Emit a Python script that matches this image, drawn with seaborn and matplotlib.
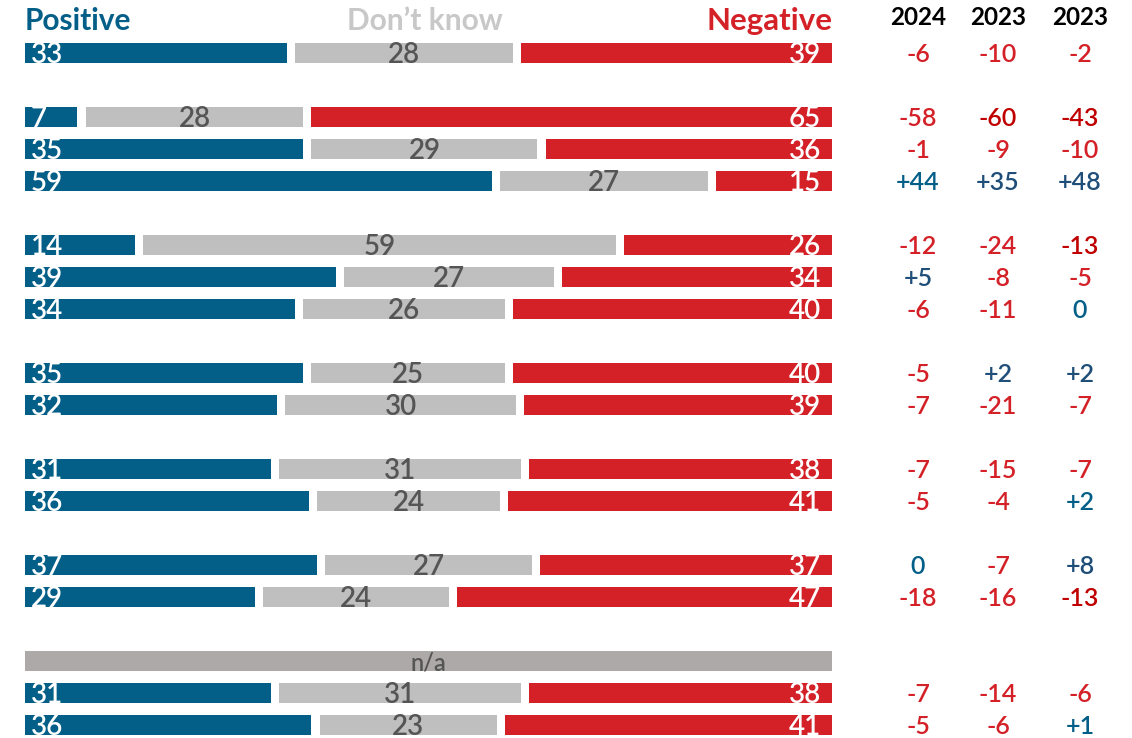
import numpy as np
import matplotlib.pyplot as plt
import seaborn as sns

# rows top to bottom; None = blank spacer row, "na" = grey n/a row
positive = [33, None, 7, 35, 59, None, 14, 39, 34, None, 35, 32, None, 31, 36, None, 37, 29, None, "na", 31, 36]
dont_know = [28, None, 28, 29, 27, None, 59, 27, 26, None, 25, 30, None, 31, 24, None, 27, 24, None, "na", 31, 23]
negative = [39, None, 65, 36, 15, None, 26, 34, 40, None, 40, 39, None, 38, 41, None, 37, 47, None, "na", 38, 41]

net_2024 = [-6, None, -58, -1, 44, None, -12, 5, -6, None, -5, -7, None, -7, -5, None, 0, -18, None, None, -7, -5]
net_2023a = [-10, None, -60, -9, 35, None, -24, -8, -11, None, 2, -21, None, -15, -4, None, -7, -16, None, None, -14, -6]
net_2023b = [-2, None, -43, -10, 48, None, -13, -5, 0, None, 2, -7, None, -7, 2, None, 8, -13, None, None, -6, 1]
col_headers = ["2024", "2023", "2023"]

# cells printed in the darker shade (row, column)
dark_cells = {(2, 1), (2, 2), (6, 2), (17, 2), (4, 1), (4, 2), (7, 0), (10, 1), (10, 2), (16, 2)}

BLUE = "#045F88"
NAVY = "#1F4E79"
GREY = "#BFBFBF"
RED = "#D42027"
DARKRED = "#C00000"
NA_GREY = "#ADA9A8"
TXT_GREY = "#555555"

sns.set_style("white")
plt.rcParams["font.family"] = ["Lato", "DejaVu Sans"]

fig = plt.figure(figsize=(11.32, 7.38), dpi=100)
ax = fig.add_axes([0, 0, 1, 1])
ax.set_xlim(-3.098, 137.17)
ax.set_ylim(21.406, -1.656)
ax.axis("off")

gap = 0.5
h = 0.625
lab_fs = 20
w = "semibold"

for i in range(len(positive)):
    p, d, n = positive[i], dont_know[i], negative[i]
    if p is None:
        continue
    if p == "na":
        ax.barh(i, 100, left=0, height=h, color=NA_GREY, linewidth=0)
        ax.text(50, i + 0.05, "n/a", ha="center", va="center", color=TXT_GREY, fontsize=17, fontweight=w)
        continue
    tot = p + d + n
    ps, ds, ns = p / tot * 100, d / tot * 100, n / tot * 100
    ax.barh(i, ps - gap, left=0, height=h, color=BLUE, linewidth=0)
    ax.barh(i, ds - 2 * gap, left=ps + gap, height=h, color=GREY, linewidth=0)
    ax.barh(i, ns - gap, left=ps + ds + gap, height=h, color=RED, linewidth=0)
    ax.text(0.7, i + 0.05, str(p), ha="left", va="center", color="white", fontsize=lab_fs, fontweight=w)
    ax.text(ps + ds / 2, i + 0.05, str(d), ha="center", va="center", color=TXT_GREY, fontsize=lab_fs, fontweight=w)
    ax.text(98.6, i + 0.05, str(n), ha="right", va="center", color="white", fontsize=lab_fs, fontweight=w)

col_x = [110.66, 120.57, 130.73]
for c, vals in enumerate([net_2024, net_2023a, net_2023b]):
    ax.text(col_x[c], -1.12, col_headers[c], ha="center", va="center",
            fontsize=17.5, fontweight="bold", color="black")
    for i, v in enumerate(vals):
        if v is None:
            continue
        dark = (i, c) in dark_cells
        if v < 0:
            col = DARKRED if dark else RED
            s = str(v)
        else:
            col = NAVY if dark else BLUE
            s = f"+{v}" if v > 0 else "0"
        ax.text(col_x[c], i + 0.05, s, ha="center", va="center", color=col, fontsize=18, fontweight=w)

ax.text(0, -1.0, "Positive", ha="left", va="center", color=BLUE, fontsize=21.5, fontweight="bold")
ax.text(49.5, -1.0, "Don\u2019t know", ha="center", va="center", color="#C8C8C8", fontsize=21.5, fontweight="bold")
ax.text(100, -1.0, "Negative", ha="right", va="center", color=RED, fontsize=22.5, fontweight="bold")

fig.savefig("out.png", dpi=100, facecolor="white")
